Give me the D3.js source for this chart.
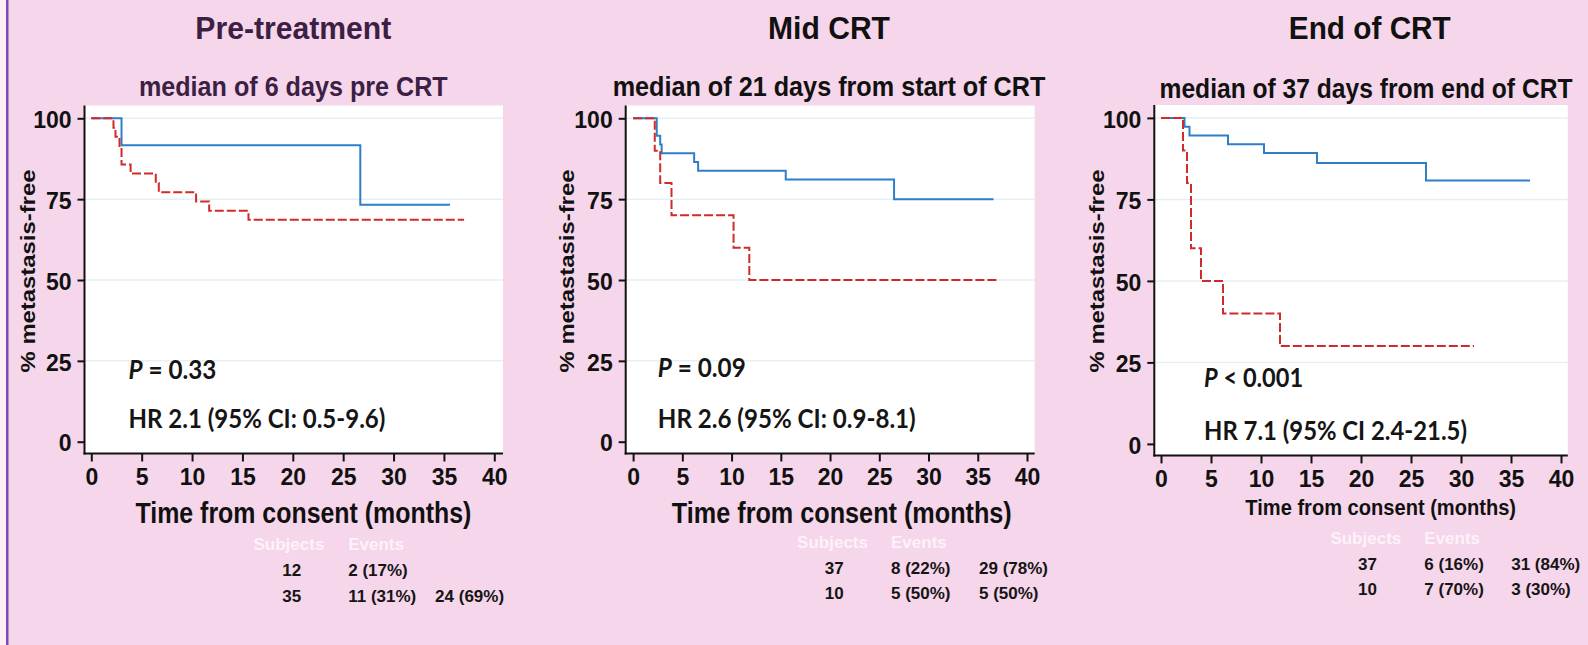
<!DOCTYPE html>
<html>
<head>
<meta charset="utf-8">
<script src="https://cdn.jsdelivr.net/npm/d3@7"></script>
<style>
  html, body { margin: 0; padding: 0; background: #fff; }
  svg { display: block; }
  .narrow { font-family: 'Liberation Sans Narrow', 'Arial Narrow', 'Liberation Sans', Arial, sans-serif; font-weight: bold; }
  .stat { font-family: Lato, 'Open Sans', sans-serif; font-weight: bold; }
</style>
</head>
<body>
<svg id="chart" width="1588" height="645"></svg>
<script>
// ---- data ----
const panelTitles = ['Pre-treatment', 'Mid CRT', 'End of CRT']
const panelSubtitles = [
  'median of 6 days pre CRT',
  'median of 21 days from start of CRT',
  'median of 37 days from end of CRT'
]
const xTicks = [0, 5, 10, 15, 20, 25, 30, 35, 40]
const yTicks = [0, 25, 50, 75, 100]
const gridTicks = [25, 50, 75, 100]
const xTitle = 'Time from consent (months)'
const yTitle = '% metastasis-free'

// Kaplan-Meier steps (months, % metastasis-free)
const preBlueT = [0, 3.0, 26.7, 35.6]
const preBlueS = [100, 91.7, 73.3, 73.3]
const preRedT = [0, 2.2, 2.4, 2.8, 3.0, 3.9, 6.4, 6.7, 10.4, 11.7, 15.6, 37.0]
const preRedS = [100, 97.1, 94.3, 91.4, 85.7, 82.9, 80.0, 77.1, 74.3, 71.4, 68.6, 68.6]

const midBlueT = [0, 2.4, 2.75, 2.9, 6.2, 6.6, 15.5, 26.5, 36.6]
const midBlueS = [100, 94.6, 91.9, 89.2, 86.5, 83.8, 81.1, 75.0, 75.0]
const midRedT = [0, 2.2, 2.75, 3.9, 10.2, 11.8, 37.1]
const midRedS = [100, 90, 80, 70, 60, 50, 50]

const endBlueT = [0, 2.35, 2.85, 6.7, 10.3, 15.6, 26.5, 36.9]
const endBlueS = [100, 97.3, 94.6, 91.9, 89.2, 86.2, 80.8, 80.8]
const endRedT = [0, 2.2, 2.6, 3.0, 4.0, 6.2, 11.9, 31.3]
const endRedS = [100, 90, 80, 60, 50, 40, 30, 30]

const pLabels = ['= 0.33', '= 0.09', '< 0.001']
const hrLabels = ['HR 2.1 (95% CI: 0.5-9.6)', 'HR 2.6 (95% CI: 0.9-8.1)', 'HR 7.1 (95% CI 2.4-21.5)']
const tableHeader = ['Subjects', 'Events']
const subjects = [['12', '35'], ['37', '10'], ['37', '10']]
const events = [['2 (17%)', '11 (31%)'], ['8 (22%)', '5 (50%)'], ['6 (16%)', '7 (70%)']]
const censored = [['', '24 (69%)'], ['29 (78%)', '5 (50%)'], ['31 (84%)', '3 (30%)']]

const curves = [
  [{ t: preBlueT, s: preBlueS, kind: 'blue' }, { t: preRedT, s: preRedS, kind: 'red' }],
  [{ t: midBlueT, s: midBlueS, kind: 'blue' }, { t: midRedT, s: midRedS, kind: 'red' }],
  [{ t: endBlueT, s: endBlueS, kind: 'blue' }, { t: endRedT, s: endRedS, kind: 'red' }]
]

// ---- layout ----
const layout = [
  {
    axisX: 84.5, x0: 91.3, x1: 494.3, y0: 441.7, y1: 118.3, axisY: 453.5, right: 503, top: 105.5,
    cx: 293.3, titleW: 196, subCx: 293.3, subW: 309, subY: 95.5, titleColor: '#3c1f44',
    yTitleX: 35, xTitleCx: 303.4, xTitleY: 522.8, xTitleW: 336, xTitleSize: 30,
    statX: 128.5, pY: 379.2, pW: 88, hrY: 427.5, hrW: 257,
    colX: [253.5, 348.2, 435.1], subjX: 282.3, rowY: [549.9, 575.9, 602.3]
  },
  {
    axisX: 625.7, x0: 633.1, x1: 1027, y0: 441.7, y1: 118.3, axisY: 453.5, right: 1034.7, top: 105.5,
    cx: 829, titleW: 122, subCx: 829, subW: 433, subY: 95.5, titleColor: '#111',
    yTitleX: 574, xTitleCx: 841.8, xTitleY: 522.8, xTitleW: 340, xTitleSize: 30,
    statX: 657.8, pY: 376.8, pW: 88, hrY: 427.5, hrW: 258,
    colX: [797.1, 891, 979], subjX: 824.8, rowY: [548.2, 573.5, 598.9]
  },
  {
    axisX: 1154.3, x0: 1161, x1: 1561, y0: 443.9, y1: 117.9, axisY: 455.4, right: 1567.8, top: 105,
    cx: 1369.8, titleW: 162, subCx: 1366, subW: 413, subY: 97.5, titleColor: '#111',
    yTitleX: 1104, xTitleCx: 1380.7, xTitleY: 515.3, xTitleW: 271, xTitleSize: 23,
    statX: 1204.1, pY: 387.3, pW: 99, hrY: 439.5, hrW: 263,
    colX: [1330.4, 1424.3, 1511.2], subjX: 1358, rowY: [543.9, 569.8, 595.4]
  }
]

const svg = d3.select('#chart')

svg.append('rect').attr('width', 1588).attr('height', 645).attr('fill', '#f6d6ea')
svg.append('rect').attr('x', 0).attr('width', 6).attr('height', 645).attr('fill', '#fbeef6')
svg.append('rect').attr('x', 6).attr('width', 2.5).attr('height', 645).attr('fill', '#7d4ab4')

/**
 * Appends a text; when a width is given the text is scaled horizontally to it.
 */
function addText (g, str, x, y, cls, size, fill, anchor, width, rotate) {
  const t = g.append('text')
    .attr('class', cls)
    .attr('font-size', size)
    .attr('fill', fill)
    .attr('text-anchor', anchor)
    .text(str)
  let sx = 1
  if (width) {
    sx = width / t.node().getComputedTextLength()
  }
  t.attr('transform', 'translate(' + x + ',' + y + ')' +
    (rotate ? ' rotate(' + rotate + ')' : '') + ' scale(' + sx + ',1)')
  return t
}

layout.forEach((p, i) => {
  const g = svg.append('g').attr('class', 'panel')
  const x = d3.scaleLinear().domain([0, 40]).range([p.x0, p.x1])
  const y = d3.scaleLinear().domain([0, 100]).range([p.y0, p.y1])

  // titles
  addText(g, panelTitles[i], p.cx, 38.9, 'narrow', 32, p.titleColor, 'middle', p.titleW)
  addText(g, panelSubtitles[i], p.subCx, p.subY, 'narrow', 27, p.titleColor, 'middle', p.subW)

  // plot background
  g.append('rect')
    .attr('x', p.axisX)
    .attr('y', p.top)
    .attr('width', p.right - p.axisX)
    .attr('height', p.axisY - p.top)
    .attr('fill', '#fff')

  // grid
  g.append('g').selectAll('line')
    .data(gridTicks)
    .join('line')
    .attr('x1', p.axisX)
    .attr('x2', p.right)
    .attr('y1', d => y(d))
    .attr('y2', d => y(d))
    .attr('stroke', '#e6eff3')
    .attr('stroke-width', 1.5)

  // curves
  const line = d3.line()
    .curve(d3.curveStepAfter)
    .x(d => x(d[0]))
    .y(d => y(d[1]))
  curves[i].forEach(c => {
    g.append('path')
      .datum(c.t.map((t, k) => [t, c.s[k]]))
      .attr('d', line)
      .attr('fill', 'none')
      .attr('stroke', c.kind === 'blue' ? '#2f7fc8' : '#d02a2a')
      .attr('stroke-width', 2)
      .attr('stroke-dasharray', c.kind === 'red' ? '9,3' : null)
  })

  // axes
  const yAxisG = g.append('g')
    .attr('transform', 'translate(' + p.axisX + ',0)')
    .call(d3.axisLeft(y).tickValues(yTicks).tickSize(7).tickPadding(6))
  const xAxisG = g.append('g')
    .attr('transform', 'translate(0,' + p.axisY + ')')
    .call(d3.axisBottom(x).tickValues(xTicks).tickSize(8).tickPadding(7))
  ;[yAxisG, xAxisG].forEach(a => {
    a.select('.domain').remove()
    a.attr('font-size', 23)
    a.selectAll('line').attr('stroke', '#111').attr('stroke-width', 2)
    a.selectAll('text').attr('class', 'narrow').attr('fill', '#111')
  })
  yAxisG.selectAll('text').attr('dy', '0.4em')

  g.append('line')
    .attr('x1', p.axisX).attr('x2', p.axisX)
    .attr('y1', p.top).attr('y2', p.axisY + 1)
    .attr('stroke', '#111').attr('stroke-width', 2)
  g.append('line')
    .attr('x1', p.axisX - 1).attr('x2', p.right)
    .attr('y1', p.axisY).attr('y2', p.axisY)
    .attr('stroke', '#111').attr('stroke-width', 2)

  // axis titles
  addText(g, xTitle, p.xTitleCx, p.xTitleY, 'narrow', p.xTitleSize, '#111', 'middle', p.xTitleW)
  addText(g, yTitle, p.yTitleX, 271, 'narrow', 21, '#111', 'middle', 203, -90)

  // statistics
  const pt = g.append('text')
    .attr('class', 'stat')
    .attr('font-size', 27)
    .attr('fill', '#151515')
  pt.append('tspan').attr('font-style', 'italic').text('P')
  pt.append('tspan').text(' ' + pLabels[i])
  const pScale = p.pW / pt.node().getComputedTextLength()
  pt.attr('transform', 'translate(' + p.statX + ',' + p.pY + ') scale(' + pScale + ',1)')
  addText(g, hrLabels[i], p.statX, p.hrY, 'stat', 27, '#151515', 'start', p.hrW)

  // subjects / events table
  addText(g, tableHeader[0], p.colX[0], p.rowY[0], 'narrow', 17, '#fdf2f9', 'start')
  addText(g, tableHeader[1], p.colX[1], p.rowY[0], 'narrow', 17, '#fdf2f9', 'start')
  for (let r = 0; r < 2; r++) {
    addText(g, subjects[i][r], p.subjX, p.rowY[r + 1], 'narrow', 17, '#151515', 'start')
    addText(g, events[i][r], p.colX[1], p.rowY[r + 1], 'narrow', 17, '#151515', 'start')
    addText(g, censored[i][r], p.colX[2], p.rowY[r + 1], 'narrow', 17, '#151515', 'start')
  }
})
</script>
</body>
</html>
